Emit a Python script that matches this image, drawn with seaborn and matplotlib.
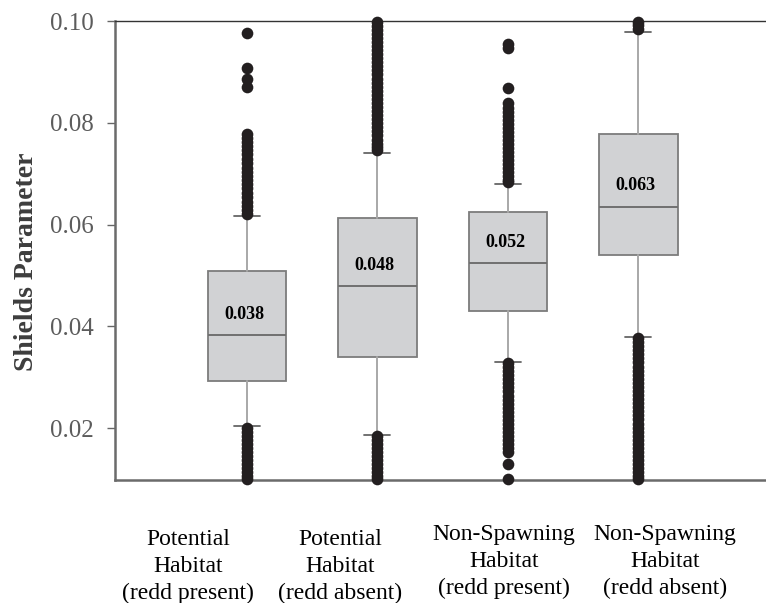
import numpy as np
import pandas as pd
import seaborn as sns
import matplotlib.pyplot as plt
from matplotlib import transforms

# ---------------- data ----------------
categories = [
    "Potential\nHabitat\n(redd present)",
    "Potential\nHabitat\n(redd absent)",
    "Non-Spawning\nHabitat\n(redd present)",
    "Non-Spawning\nHabitat\n(redd absent)",
]
q1 = [0.0292, 0.0339, 0.0430, 0.0541]
medians = [0.0382, 0.0479, 0.0524, 0.0635]
q3 = [0.0508, 0.0612, 0.0624, 0.0778]
whisker_low = [0.0204, 0.0187, 0.0330, 0.0379]
whisker_high = [0.0616, 0.0741, 0.0679, 0.0978]
median_labels = ["0.038", "0.048", "0.052", "0.063"]

fliers_potential_present = [
    0.0976, 0.0907, 0.0886, 0.0871,
    0.0778, 0.0771, 0.0762, 0.0755, 0.0746, 0.0738, 0.0729, 0.0721, 0.0712,
    0.0704, 0.0695, 0.0688, 0.0679, 0.0671, 0.0662, 0.0654, 0.0645, 0.0637,
    0.0629, 0.0621,
    0.0201, 0.0193, 0.0185, 0.0177, 0.0169, 0.0161, 0.0153, 0.0145, 0.0137,
    0.0129, 0.0121, 0.0113, 0.0106, 0.0099,
]
fliers_potential_absent = [
    0.0999, 0.0991, 0.0983, 0.0975, 0.0967, 0.0959, 0.0951, 0.0943, 0.0935,
    0.0927, 0.0919, 0.0911, 0.0903, 0.0895, 0.0887, 0.0879, 0.0871, 0.0863,
    0.0855, 0.0847, 0.0839, 0.0831, 0.0823, 0.0815, 0.0807, 0.0799, 0.0791,
    0.0783, 0.0775, 0.0767, 0.0759, 0.0752, 0.0746,
    0.0185, 0.0177, 0.0169, 0.0161, 0.0153, 0.0145, 0.0137, 0.0129, 0.0121,
    0.0113, 0.0106, 0.0099,
]
fliers_nonspawning_present = [
    0.0955, 0.0946, 0.0869,
    0.0838, 0.0830, 0.0822, 0.0814, 0.0806, 0.0798, 0.0790, 0.0782, 0.0774,
    0.0766, 0.0758, 0.0750, 0.0742, 0.0735, 0.0727, 0.0719, 0.0711, 0.0703,
    0.0695, 0.0688, 0.0684,
    0.0328, 0.0320, 0.0312, 0.0304, 0.0296, 0.0288, 0.0280, 0.0272, 0.0264,
    0.0256, 0.0248, 0.0240, 0.0232, 0.0224, 0.0216, 0.0208, 0.0200, 0.0192,
    0.0184, 0.0176, 0.0168, 0.0160, 0.0153, 0.0130, 0.0100,
]
fliers_nonspawning_absent = [
    0.0998, 0.0992, 0.0985,
    0.0377, 0.0369, 0.0361, 0.0353, 0.0345, 0.0337, 0.0329, 0.0321, 0.0313,
    0.0305, 0.0297, 0.0289, 0.0281, 0.0273, 0.0265, 0.0257, 0.0249, 0.0241,
    0.0233, 0.0225, 0.0217, 0.0209, 0.0201, 0.0193, 0.0185, 0.0177, 0.0169,
    0.0161, 0.0153, 0.0145, 0.0137, 0.0129, 0.0121, 0.0113, 0.0106, 0.0099,
]
fliers = [fliers_potential_present, fliers_potential_absent,
          fliers_nonspawning_present, fliers_nonspawning_absent]

y_ticks = [0.02, 0.04, 0.06, 0.08, 0.10]
y_tick_labels = ["0.02", "0.04", "0.06", "0.08", "0.10"]
y_label = "Shields Parameter"

# ---------------- figure ----------------
sns.set_theme(style="white")
plt.rcParams['font.family'] = ['Liberation Serif', 'DejaVu Serif']

W, H = 766, 603
fig = plt.figure(figsize=(W / 100, H / 100), dpi=100)
fig.patch.set_facecolor("white")
ax_l, ax_r, ax_t, ax_b = 115, 765, 21, 480
ax = fig.add_axes([ax_l / W, 1 - ax_b / H, (ax_r - ax_l) / W, (ax_b - ax_t) / H])

stats = []
for i, c in enumerate(categories):
    stats.append(dict(label=c, q1=q1[i], med=medians[i], q3=q3[i],
                      whislo=whisker_low[i], whishi=whisker_high[i], fliers=[]))

ax.bxp(stats, positions=range(len(categories)), widths=0.6, capwidths=0.2,
       patch_artist=True, showfliers=False,
       boxprops=dict(facecolor="#d1d2d4", edgecolor="#7c7c7c", linewidth=1.3),
       whiskerprops=dict(color="#a8a8a8", linewidth=1.4),
       capprops=dict(color="#666666", linewidth=1.3),
       medianprops=dict(color="#707070", linewidth=1.4))

# outliers through seaborn
df = pd.DataFrame({
    "category": [categories[i] for i, f in enumerate(fliers) for _ in f],
    "value": [v for f in fliers for v in f],
})
sns.stripplot(data=df, x="category", y="value", order=categories, jitter=False,
              color="#231f20", size=8.4, linewidth=0, ax=ax, zorder=3)
for coll in ax.collections:
    coll.set_clip_on(False)

# median labels
for i, lbl in enumerate(median_labels):
    ax.annotate(lbl, xy=(i, medians[i]), xytext=(-2, 15), textcoords="offset points",
                ha="center", va="center", fontsize=13, fontweight="bold", color="black")

ax.set_xlim(-1.01, 3.97)
ax.set_ylim(0.0098, 0.100)
ax.set_xticks([])
ax.set_xlabel("")
ax.set_yticks(y_ticks)
ax.set_yticklabels(y_tick_labels)
ax.tick_params(axis="y", left=True, length=6, width=1, color="#666666",
               labelsize=18, labelcolor="#5c5c5c", pad=9)

ax.set_ylabel(y_label, fontsize=20, fontweight="bold", color="#3d3d3d")
ax.yaxis.set_label_coords((39 - ax_l) / (ax_r - ax_l), 0.476)

for side in ["left", "bottom"]:
    ax.spines[side].set_color("#6b6b6b")
    ax.spines[side].set_linewidth(1.8)
ax.spines["top"].set_color("#333333")
ax.spines["top"].set_linewidth(1.0)
ax.spines["right"].set_visible(False)

# category labels under the axis (placed as in the reference, pixel centres)
label_centres_px = [188, 340, 504, 665]
label_tops_px = [529, 529, 524, 524]
for i, c in enumerate(categories):
    ax.text((label_centres_px[i] - ax_l) / (ax_r - ax_l),
            (ax_b - label_tops_px[i]) / (ax_b - ax_t), c, transform=ax.transAxes,
            ha="center", va="top", fontsize=17, linespacing=1.36, color="black")

fig.savefig("out.png", dpi=100, facecolor="white")
